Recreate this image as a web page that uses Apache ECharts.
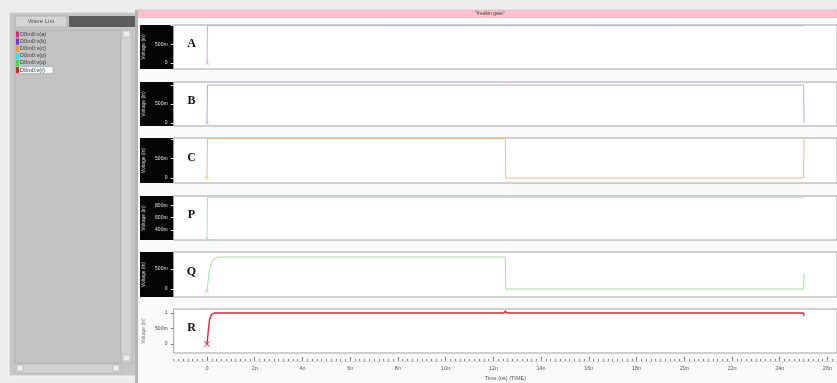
<!DOCTYPE html>
<html>
<head>
<meta charset="utf-8">
<script src="https://cdn.jsdelivr.net/npm/echarts@6/dist/echarts.min.js"></script>
<style>
  html, body { margin: 0; padding: 0; background: #f6f6f6; }
  #chart { width: 837px; height: 383px; }
</style>
</head>
<body>
<div id="chart"></div>
<script>
// Fredkin gate transient simulation: node voltages (V) against time (ns)
const signalNames = ['A', 'B', 'C', 'P', 'Q', 'R'];
const waveListItems = ['D0m0:v(a)', 'D0m0:v(b)', 'D0m0:v(c)', 'D0m0:v(p)', 'D0m0:v(q)', 'D0m0:v(r)'];
const plotTitle = '"fredkin gate"';

const waveA = [[0, 0], [0.02, 1], [25, 1]];
const waveB = [[0, 0], [0.02, 1], [25, 1], [25.02, 0]];
const waveC = [[0, 0], [0.02, 1], [12.5, 1], [12.52, 0], [25, 0], [25.02, 1]];
const waveP = [[0, 0.25], [0.02, 0.93], [25, 0.93]];
const waveQ = [[0, -0.05], [0.05, 0.2], [0.1, 0.45], [0.18, 0.65], [0.3, 0.76], [0.5, 0.8],
               [12.5, 0.8], [12.52, 0], [25, 0], [25.02, 0.4]];
const waveR = [[0, 0], [0.05, 0.4], [0.1, 0.75], [0.18, 0.95], [0.3, 1], [12.45, 1], [12.5, 1.07],
               [12.55, 1], [25, 1], [25.02, 0.9]];

const timeTicks = [0, 2, 4, 6, 8, 10, 12, 14, 16, 18, 20, 22, 24, 26];
const voltTicks = [[0, 0.5, 1], [0, 0.5, 1], [0, 0.5, 1], [0.4, 0.6, 0.8], [0, 0.5, 1], [0, 0.5, 1]];
const voltLabelValues = [[0, 0.5], [0, 0.5], [0, 0.5], [0.4, 0.6, 0.8], [0, 0.5], [0, 0.5, 1]];

// ---- layout & styling ----
const waves = [waveA, waveB, waveC, waveP, waveQ, waveR];
const voltRanges = [[-0.16, 1.02], [-0.08, 1.08], [-0.125, 1.02], [0.233, 0.95], [-0.2, 0.925], [-0.29, 1.13]];
const panelTops = [25, 82, 138, 196, 252, 309];
const panelHeights = [44, 44, 45, 44, 45, 44];
const plotLeft = 173.6;
const timeMin = -1.4, timeMax = 26.4;
const traceColors = ['#d8a6d8', '#c2a2ec', '#e6c088', '#a4dcdc', '#9ce49c', '#dc2634'];
const listColors = ['#d0307a', '#6a38e0', '#f0a030', '#38dede', '#40dc40', '#e02424'];
const crossPath = 'path://M0,1L1,0L5,4L9,0L10,1L6,5L10,9L9,10L5,6L1,10L0,9L4,5Z';

function voltFmt(v) {
  if (Math.abs(v) < 1e-9) return '0';
  if (Math.abs(v) < 1) return Math.round(v * 1000) + 'm';
  return String(v);
}

const grids = [], xAxes = [], yAxes = [], series = [];
signalNames.forEach((name, i) => {
  const isLast = i === signalNames.length - 1;
  grids.push({
    left: plotLeft, right: 0, top: panelTops[i], height: panelHeights[i],
    show: true, backgroundColor: '#ffffff', borderColor: '#a2a2a2', borderWidth: 1
  });
  xAxes.push({
    type: 'value', gridIndex: i, min: timeMin, max: timeMax, position: 'bottom',
    show: isLast, offset: isLast ? 8 : 0,
    name: isLast ? 'Time (ns) (TIME)' : '', nameLocation: 'middle', nameGap: 14, nameMoveOverlap: false,
    nameTextStyle: { fontSize: 5.5, color: '#555', fontFamily: 'Liberation Sans' },
    splitLine: { show: false },
    axisLine: { show: false, onZero: false },
    axisTick: { show: true, inside: true, length: 4, customValues: timeTicks, lineStyle: { color: '#777' } },
    axisLabel: {
      show: true, customValues: timeTicks, fontSize: 5.5, color: '#555', margin: 4,
      fontFamily: 'Liberation Sans', formatter: v => (v === 0 ? '0' : v + 'n')
    }
  });
  const dark = !isLast;
  yAxes.push({
    type: 'value', gridIndex: i, min: voltRanges[i][0], max: voltRanges[i][1],
    name: 'Voltage (in)', nameLocation: 'middle', nameGap: 27, nameRotate: 90, nameMoveOverlap: false,
    nameTextStyle: { fontSize: 5, color: dark ? '#d8d8d8' : '#777', fontFamily: 'Liberation Sans' },
    splitLine: { show: false },
    axisLine: { show: false, onZero: false },
    axisTick: { show: true, length: 3, customValues: voltTicks[i], lineStyle: { color: dark ? '#e0e0e0' : '#777' } },
    axisLabel: {
      customValues: voltLabelValues[i], fontSize: 5, margin: 6,
      color: dark ? '#e4e4e4' : '#444', fontFamily: 'Liberation Sans', formatter: voltFmt
    }
  });
  const data = waves[i].map((p, k) => k === 0
    ? { value: p, symbol: crossPath, symbolSize: isLast ? 6 : 4, itemStyle: { color: traceColors[i] } }
    : { value: p, symbol: 'none' });
  series.push({
    name: name, type: 'line', xAxisIndex: i, yAxisIndex: i, data: data,
    showSymbol: true, showAllSymbol: true, symbol: 'none', animation: false, silent: true,
    lineStyle: { color: traceColors[i], width: isLast ? 1.4 : 1 }, z: 5, clip: true
  });
});

// extra axis carrying the fine time ticks under the last panel
xAxes.push({
  type: 'value', gridIndex: 5, min: timeMin, max: timeMax, interval: 0.2, position: 'bottom', offset: 8,
  splitLine: { show: false }, axisLine: { show: true, onZero: false, lineStyle: { color: '#c4c4c4', width: 0.6 } },
  axisTick: { show: true, inside: true, length: 2, lineStyle: { color: '#8a8a8a' } },
  axisLabel: { show: false }
});

// ---- window chrome ----
const g = [];
g.push({ type: 'rect', shape: { x: 0, y: 0, width: 837, height: 10 }, style: { fill: '#ededed' }, silent: true, z: -10 });
g.push({ type: 'rect', shape: { x: 0, y: 0, width: 138, height: 383 }, style: { fill: '#ececec' }, silent: true, z: -9 });
g.push({ type: 'rect', shape: { x: 9, y: 12, width: 127, height: 364 }, style: { fill: '#c6c6c6', stroke: '#f8f8f8', lineWidth: 1 }, silent: true, z: -8 });
g.push({ type: 'rect', shape: { x: 135, y: 10, width: 3, height: 373 }, style: { fill: '#b4b4b4' }, silent: true, z: -8 });
// header tab and bar
g.push({ type: 'rect', shape: { x: 15, y: 16, width: 52, height: 11 }, style: { fill: '#d6d6d6', stroke: '#a8a8a8', lineWidth: 0.8 }, silent: true, z: -7 });
g.push({ type: 'text', style: { text: 'Wave List', x: 41, y: 21.5, font: '6px "Liberation Sans"', fill: '#555', align: 'center', verticalAlign: 'middle' }, silent: true, z: -6 });
g.push({ type: 'rect', shape: { x: 69, y: 16, width: 66, height: 11 }, style: { fill: '#5c5c5c' }, silent: true, z: -7 });
// list area and scrollbars
g.push({ type: 'rect', shape: { x: 15, y: 30, width: 106, height: 333 }, style: { fill: '#c2c2c2', stroke: '#aaaaaa', lineWidth: 0.6 }, silent: true, z: -7 });
g.push({ type: 'rect', shape: { x: 121, y: 30, width: 11, height: 333 }, style: { fill: '#d2d2d2', stroke: '#b0b0b0', lineWidth: 0.6 }, silent: true, z: -7 });
g.push({ type: 'rect', shape: { x: 123, y: 31, width: 7, height: 6 }, style: { fill: '#eeeeee', stroke: '#a0a0a0', lineWidth: 0.5 }, silent: true, z: -6 });
g.push({ type: 'rect', shape: { x: 123, y: 355, width: 7, height: 6 }, style: { fill: '#eeeeee', stroke: '#a0a0a0', lineWidth: 0.5 }, silent: true, z: -6 });
g.push({ type: 'rect', shape: { x: 15, y: 364, width: 106, height: 9 }, style: { fill: '#d2d2d2', stroke: '#b0b0b0', lineWidth: 0.6 }, silent: true, z: -7 });
g.push({ type: 'rect', shape: { x: 17, y: 365, width: 6, height: 6 }, style: { fill: '#eeeeee', stroke: '#a0a0a0', lineWidth: 0.5 }, silent: true, z: -6 });
g.push({ type: 'rect', shape: { x: 113, y: 365, width: 6, height: 6 }, style: { fill: '#eeeeee', stroke: '#a0a0a0', lineWidth: 0.5 }, silent: true, z: -6 });
// wave list entries
waveListItems.forEach((label, i) => {
  const y = 34.5 + i * 7.1;
  if (i === waveListItems.length - 1) {
    g.push({ type: 'rect', shape: { x: 16, y: y - 3.4, width: 37, height: 7 }, style: { fill: '#f6f6f6', stroke: '#9a9a9a', lineWidth: 0.5 }, silent: true, z: -5 });
  }
  if (i === waveListItems.length - 2) {
    g.push({ type: 'rect', shape: { x: 19, y: y + 3, width: 34, height: 0.8 }, style: { fill: '#7aaad8' }, silent: true, z: -5 });
  }
  g.push({ type: 'rect', shape: { x: 16, y: y - 3, width: 3, height: 6 }, style: { fill: listColors[i] }, silent: true, z: -4 });
  g.push({ type: 'text', style: { text: label, x: 20, y: y, font: '5.6px "Liberation Sans"', fill: '#3a3a3a', align: 'left', verticalAlign: 'middle' }, silent: true, z: -4 });
});
// title bar
g.push({ type: 'rect', shape: { x: 138, y: 10, width: 699, height: 7.5 }, style: { fill: '#ffc2cd', stroke: '#c9b0b4', lineWidth: 0.6 }, silent: true, z: -7 });
g.push({ type: 'text', style: { text: plotTitle, x: 490, y: 13.8, font: '5px "Liberation Sans"', fill: '#444', align: 'center', verticalAlign: 'middle' }, silent: true, z: -6 });
// dark axis panels and trace letters
signalNames.forEach((name, i) => {
  if (i < signalNames.length - 1) {
    g.push({ type: 'rect', shape: { x: 140, y: panelTops[i], width: plotLeft - 140, height: panelHeights[i] }, style: { fill: '#050505' }, silent: true, z: -3 });
  }
  g.push({ type: 'text', style: { text: name, x: 191.5, y: panelTops[i] + panelHeights[i] * 0.44, font: 'bold 12px "Liberation Serif"', fill: '#111', align: 'center', verticalAlign: 'middle' }, silent: true, z: 20 });
});

const chart = echarts.init(document.getElementById('chart'), null, { renderer: 'canvas' });
chart.setOption({
  backgroundColor: '#fafafa',
  animation: false,
  grid: grids,
  xAxis: xAxes,
  yAxis: yAxes,
  series: series,
  graphic: { elements: g }
});
</script>
</body>
</html>
